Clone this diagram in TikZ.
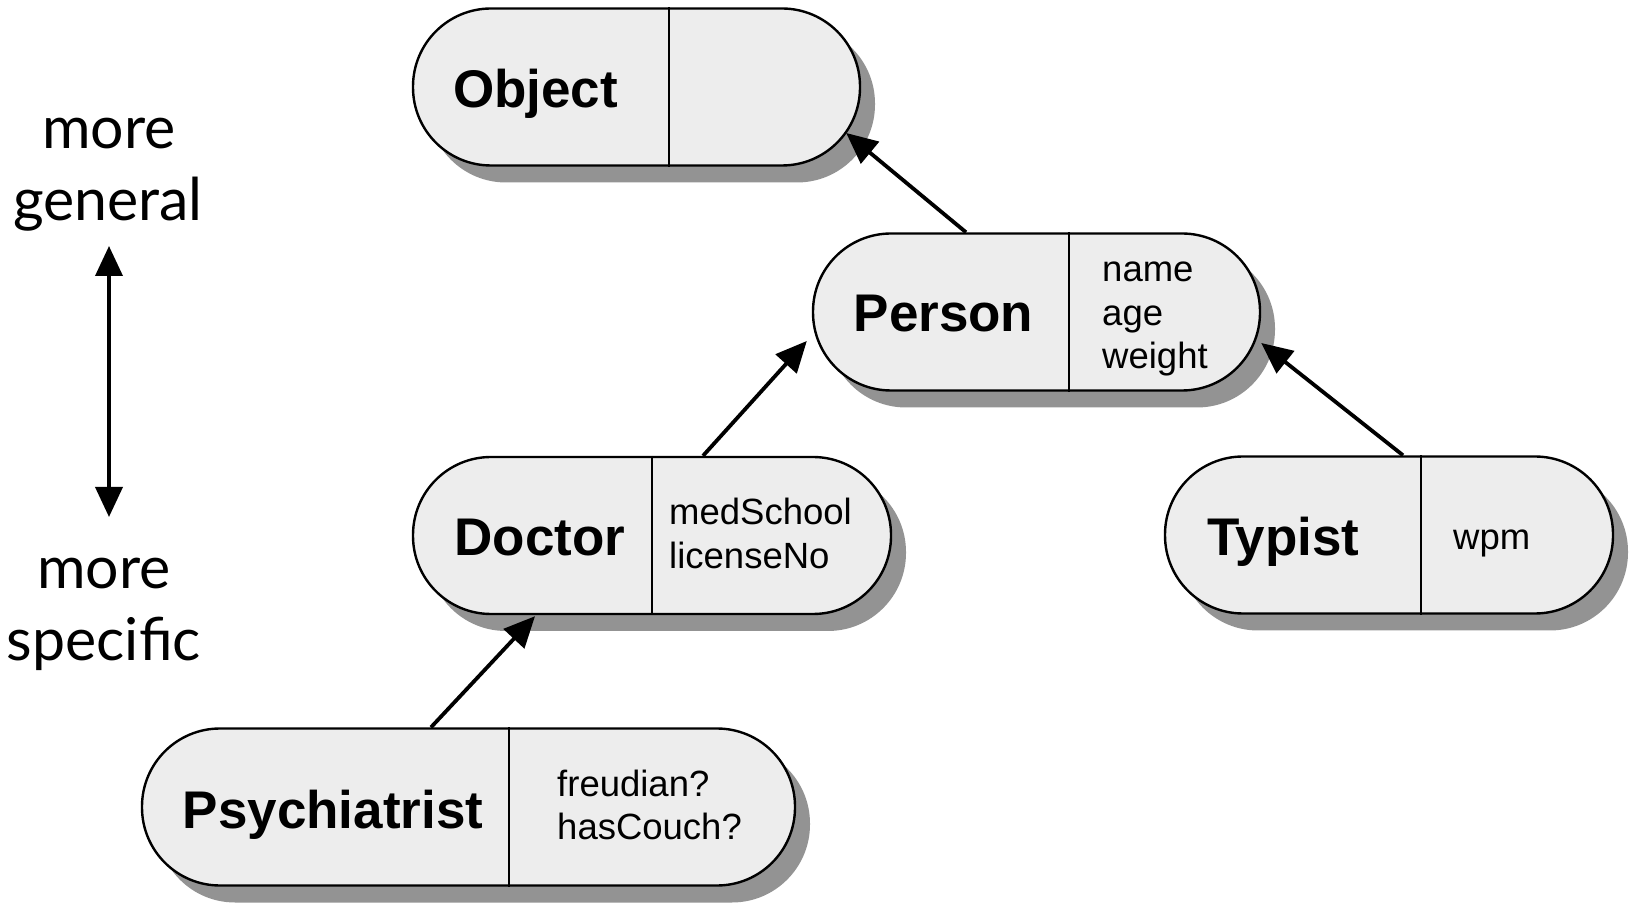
\documentclass[tikz,border=0pt]{standalone}
\usepackage{fontspec}
\newfontfamily\arialf{Liberation Sans}
\newfontfamily\gillf{Lato}
\usetikzlibrary{calc,shadows,arrows.meta}
\definecolor{pillfill}{HTML}{EDEDED}
\definecolor{shadowgray}{HTML}{939393}
\tikzset{
  pill/.style={draw=black, line width=2.4pt, fill=pillfill, rectangle,
    rounded corners=78pt, minimum height=157pt, inner sep=0pt,
    drop shadow={shadow xshift=15pt, shadow yshift=-17pt, fill=shadowgray, opacity=1}},
  divline/.style={line width=2pt},
  classname/.style={anchor=base, inner sep=0pt, font=\arialf\bfseries\fontsize{53}{60}\selectfont},
  attrs/.style={anchor=base west, inner sep=0pt, font=\arialf\fontsize{36.5}{43.5}\selectfont},
  sidelabel/.style={anchor=base, inner sep=0pt, font=\gillf\fontsize{59}{72}\selectfont},
  inh/.style={line width=3.8pt, -{Triangle[length=31pt,width=28pt]}},
  dbl/.style={line width=3.8pt, {Triangle[length=30pt,width=27pt]}-{Triangle[length=30pt,width=27pt]}}
}
\begin{document}
\begin{tikzpicture}[x=1pt,y=1pt]
\useasboundingbox (0,0) rectangle (1629,902);

% pills
\node[pill, minimum width=447pt] (obj) at (636.5,815) {};
\node[pill, minimum width=447pt] (person) at (1036.5,590) {};
\node[pill, minimum width=478pt] (doctor) at (652,366.5) {};
\node[pill, minimum width=448pt] (typist) at (1389,367) {};
\node[pill, minimum width=653pt] (psych) at (468.5,95) {};

% dividers
\draw[divline] ($(obj.north)+(32.5,0)$) -- ($(obj.south)+(32.5,0)$);
\draw[divline] ($(person.north)+(32.5,0)$) -- ($(person.south)+(32.5,0)$);
\draw[divline] ($(doctor.north)+(0,0)$) -- ($(doctor.south)+(0,0)$);
\draw[divline] ($(typist.north)+(32,0)$) -- ($(typist.south)+(32,0)$);
\draw[divline] ($(psych.north)+(40.5,0)$) -- ($(psych.south)+(40.5,0)$);

% class names
\node[classname] (objname) at (535.5,794.5) {Object};
\node[classname] (personname) at (943.5,570) {Person};
\node[classname] (doctorname) at (540,346) {Doctor};
\node[classname] (typistname) at (1283.5,346.5) {Typist};
\node[classname] (psychname) at (333,74) {Psychiatrist};

% attributes
\node[attrs] (personattr) at (1102,620) {\begin{tabular}[t]{@{}l@{}}name\\age\\weight\end{tabular}};
\node[attrs] (doctorattr) at (669,377.3) {\begin{tabular}[t]{@{}l@{}}medSchool\\licenseNo\end{tabular}};
\node[attrs] (typistattr) at (1453,352) {wpm};
\node[attrs] (psychattr) at (557,106) {\begin{tabular}[t]{@{}l@{}}freudian?\\hasCouch?\end{tabular}};

% inheritance arrows
\draw[inh] ($(person.north)+(-70.5,0)$) -- ($(obj.east)+(-15,-46)$);
\draw[inh] ($(doctor.north)+(51,0)$) -- ($(person.west)+(-5,-29)$);
\draw[inh] ($(typist.north)+(14,0)$) -- ($(person.east)+(0,-31)$);
\draw[inh] ($(psych.north)+(-37.5,0)$) -- ($(doctor.south)+(-117,-1)$);

% side labels
\node[sidelabel] (gen1) at (109,753) {more};
\node[sidelabel] (gen2) at (108,681) {general};
\node[sidelabel] (spec1) at (104,313) {more};
\node[sidelabel] (spec2) at (104,241) {specific};
\coordinate (atop) at (109,656);
\coordinate (abot) at (109,385);
\draw[dbl] (atop) -- (abot);
\end{tikzpicture}
\end{document}
